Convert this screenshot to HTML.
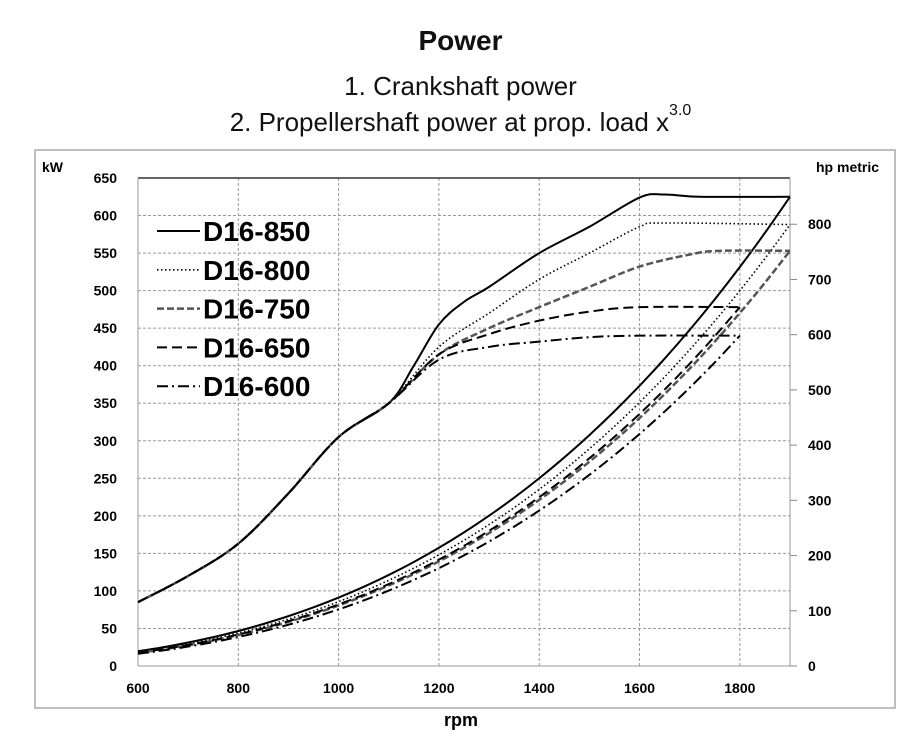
<!DOCTYPE html>
<html><head><meta charset="utf-8"><style>
body{margin:0;background:#fff;width:921px;height:750px;overflow:hidden;font-family:"Liberation Sans",sans-serif}
.t{position:absolute;width:921px;text-align:center;color:#111}
</style></head><body>
<div class="t" style="top:25px;font-size:28px;font-weight:bold">Power</div>
<div class="t" style="top:71px;font-size:26px">1. Crankshaft power</div>
<div class="t" style="top:107px;font-size:26px">2. Propellershaft power at prop. load x<sup style="font-size:16px;position:relative;top:-6px">3.0</sup></div>
<svg id="s" width="921" height="750" style="position:absolute;left:0;top:0"></svg>
<script>
const s=document.getElementById('s');
const X=r=>138+(r-600)*(652/1300), Y=k=>666-k*(488/650);
let h='<rect x="35" y="150" width="860" height="558" fill="none" stroke="#aaa" stroke-width="1.5"/>';
for(let k=0;k<=650;k+=50){h+=`<line x1="138" x2="790" y1="${Y(k)}" y2="${Y(k)}" stroke="#999" stroke-dasharray="3 2" stroke-width="1"/>`;
h+=`<text x="117" y="${Y(k)+5}" text-anchor="end" font-size="14" font-weight="bold">${k}</text>`;}
for(let r=800;r<=1800;r+=200)h+=`<line x1="${X(r)}" x2="${X(r)}" y1="178" y2="666" stroke="#999" stroke-dasharray="3 2"/>`;
for(let r=600;r<=1800;r+=200)h+=`<text x="${X(r)}" y="693" text-anchor="middle" font-size="14" font-weight="bold">${r}</text>`;
for(let p=0;p<=800;p+=100){const y=666-p*0.7355*(488/650);h+=`<line x1="790" x2="797" y1="${y}" y2="${y}" stroke="#888"/><text x="808" y="${y+5}" font-size="14" font-weight="bold">${p}</text>`;}
h+='<line x1="138" x2="790" y1="178" y2="178" stroke="#333" stroke-width="1.5"/><line x1="138" x2="138" y1="178" y2="666" stroke="#999"/><line x1="790" x2="790" y1="178" y2="666" stroke="#999"/><line x1="138" x2="790" y1="666" y2="666" stroke="#999"/>';
h+='<text x="42" y="172" font-size="14" font-weight="bold">kW</text><text x="816" y="172" font-size="14" font-weight="bold">hp metric</text><text x="461" y="726" text-anchor="middle" font-size="18" font-weight="bold">rpm</text>';
function path(pts){let d=`M${X(pts[0][0])},${Y(pts[0][1])}`;const P=pts.map(p=>[X(p[0]),Y(p[1])]);
for(let i=0;i<P.length-1;i++){const p0=P[Math.max(0,i-1)],p1=P[i],p2=P[i+1],p3=P[Math.min(P.length-1,i+2)];
d+=`C${p1[0]+(p2[0]-p0[0])/6},${p1[1]+(p2[1]-p0[1])/6} ${p2[0]-(p3[0]-p1[0])/6},${p2[1]-(p3[1]-p1[1])/6} ${p2[0]},${p2[1]}`;}return d;}
const com=[[600,85],[700,120],[800,163],[900,230],[1000,305],[1100,350]];
const S=[
{st:'stroke="#000" stroke-width="2"',f:[[1150,400],[1200,455],[1250,485],[1300,505],[1400,550],[1500,585],[1600,624],[1650,628],[1720,625],[1900,625]],pm:625,pe:1900},
{st:'stroke="#000" stroke-width="1.6" stroke-dasharray="1.5 2.5"',f:[[1200,425],[1300,470],[1400,515],[1500,550],[1600,585],[1650,590],[1900,588]],pm:588,pe:1900},
{st:'stroke="#555" stroke-width="2.5" stroke-dasharray="7 3"',f:[[1200,415],[1300,450],[1400,478],[1500,505],[1600,532],[1700,548],[1760,553],[1900,553]],pm:553,pe:1900},
{st:'stroke="#000" stroke-width="2" stroke-dasharray="10 5"',f:[[1200,415],[1300,442],[1400,460],[1500,472],[1600,478],[1800,478]],pm:478,pe:1800},
{st:'stroke="#000" stroke-width="2" stroke-dasharray="11 4 2 4"',f:[[1200,408],[1300,425],[1400,432],[1500,438],[1600,440],[1800,440]],pm:440,pe:1800}];
S.forEach(o=>{h+=`<path d="${path(com.concat(o.f))}" fill="none" ${o.st}/>`;
const pp=[];for(let r=600;r<=o.pe;r+=50)pp.push([r,o.pm*Math.pow(r/o.pe,3)]);h+=`<path d="${path(pp)}" fill="none" ${o.st}/>`;});
const L=['D16-850','D16-800','D16-750','D16-650','D16-600'];
L.forEach((n,i)=>{const y=231+i*38.8;h+=`<line x1="157" x2="200" y1="${y}" y2="${y}" ${S[i].st}/><text x="203" y="${y+10}" font-size="28" font-weight="bold">${n}</text>`;});
s.innerHTML=h;
</script>
</body></html>
